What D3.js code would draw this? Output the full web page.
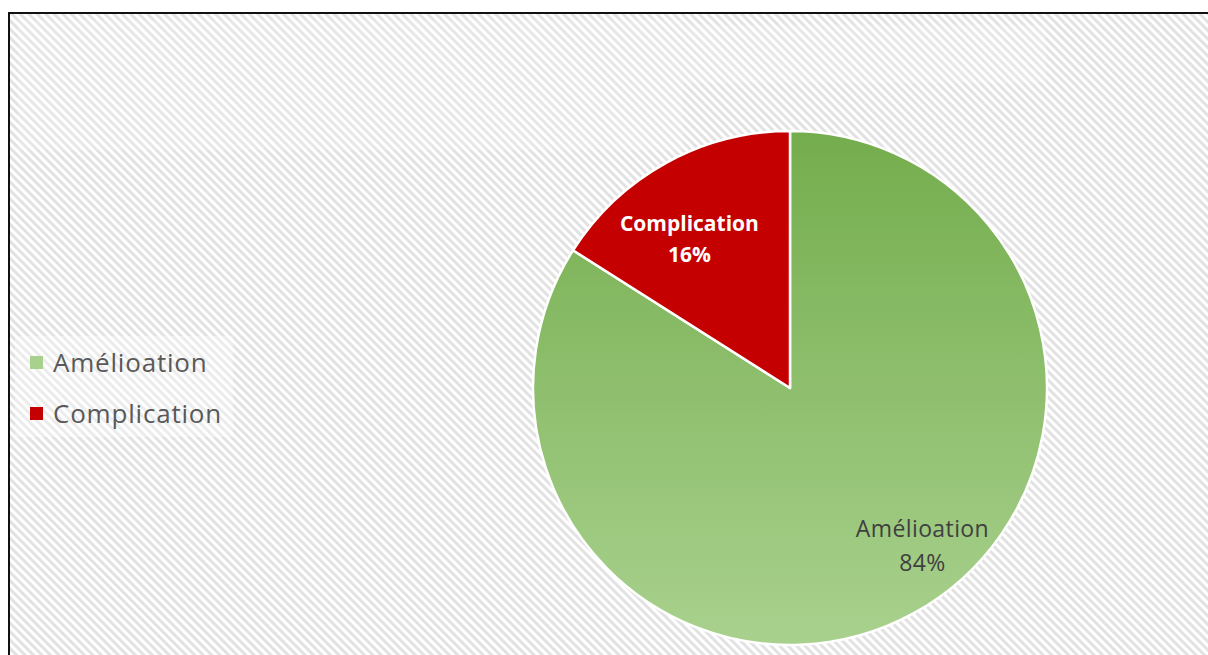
<!DOCTYPE html>
<html>
<head>
<meta charset="utf-8">
<script src="https://cdn.jsdelivr.net/npm/d3@7"></script>
<style>
  html, body { margin: 0; padding: 0; background: #fff; }
  svg { display: block; }
</style>
</head>
<body>
<svg id="chart" width="1208" height="655"></svg>
<script>
// Outcome shares
const categories = ["Amélioation", "Complication"];
const values = [84, 16];
const sliceColors = ["url(#greenFill)", "#c40000"];
const legendSwatches = ["#a9d18e", "#c40000"];

const svg = d3.select("#chart");
const W = 1208, H = 655;

const defs = svg.append("defs");

// diagonal hatch background
const pat = defs.append("pattern")
  .attr("id", "hatch")
  .attr("patternUnits", "userSpaceOnUse")
  .attr("width", 6).attr("height", 6)
  .attr("patternTransform", "rotate(45)");
pat.append("rect").attr("width", 6).attr("height", 6).attr("fill", "#ffffff");
pat.append("rect").attr("width", 6).attr("height", 3).attr("fill", "#e2e2e2");

// chart area with hatch and black frame
svg.append("rect")
  .attr("x", 9).attr("y", 13).attr("width", W + 10).attr("height", H + 10)
  .attr("fill", "url(#hatch)")
  .attr("stroke", "#111").attr("stroke-width", 2);

// faint lighter panels
svg.append("rect").attr("x", 18).attr("y", 20).attr("width", 665).attr("height", 130)
  .attr("fill", "#fff").attr("opacity", 0.18);
svg.append("rect").attr("x", 683).attr("y", 25).attr("width", 363).attr("height", 58)
  .attr("fill", "#fff").attr("opacity", 0.18);

// pie
const cx = 790, cy = 388, r = 257;

const grad = defs.append("linearGradient")
  .attr("id", "greenFill")
  .attr("gradientUnits", "userSpaceOnUse")
  .attr("x1", 0).attr("y1", -r).attr("x2", 0).attr("y2", r);
grad.append("stop").attr("offset", "0%").attr("stop-color", "#74ad4d");
grad.append("stop").attr("offset", "100%").attr("stop-color", "#a9d18e");

const pie = d3.pie().sort(null).value(d => d.value);
const arcs = pie(categories.map((c, i) => ({ name: c, value: values[i], fill: sliceColors[i] })));
const arc = d3.arc().innerRadius(0).outerRadius(r);

const g = svg.append("g").attr("transform", `translate(${cx},${cy})`);
g.selectAll("path.slice")
  .data(arcs)
  .join("path")
  .attr("class", "slice")
  .attr("d", arc)
  .attr("fill", d => d.data.fill)
  .attr("stroke", "#fff")
  .attr("stroke-width", 2.5)
  .attr("stroke-linejoin", "round");

// data labels: radius fraction and angular nudge from each slice's mid-angle
const labelPlacement = [
  { radius: 0.80, nudgeDeg: -11.3, fill: "#404040", weight: 400, size: 23, spacing: 0.4, gap: 34 },
  { radius: 0.70, nudgeDeg: -5.2, fill: "#ffffff", weight: 700, size: 21, spacing: 0, gap: 31 }
];
arcs.forEach((d, i) => {
  const p = labelPlacement[i];
  const a = (d.startAngle + d.endAngle) / 2 + p.nudgeDeg * Math.PI / 180;
  const lx = Math.sin(a) * r * p.radius;
  const ly = -Math.cos(a) * r * p.radius;
  const lines = [d.data.name, d.data.value + "%"];
  lines.forEach((txt, j) => {
    g.append("text")
      .attr("x", lx)
      .attr("y", ly + (j - 0.5) * p.gap)
      .attr("text-anchor", "middle")
      .attr("dominant-baseline", "central")
      .attr("font-family", "'Open Sans', 'Noto Sans', sans-serif")
      .attr("font-size", p.size)
      .attr("font-weight", p.weight)
      .attr("letter-spacing", p.spacing)
      .attr("fill", p.fill)
      .text(txt);
  });
});

// legend
const lg = svg.append("g");
lg.append("rect").attr("x", 15).attr("y", 336).attr("width", 218).attr("height", 101)
  .attr("fill", "#fff").attr("opacity", 0.35);
categories.forEach((c, i) => {
  const y = 362 + i * 51;
  lg.append("rect").attr("x", 30).attr("y", y - 6).attr("width", 13).attr("height", 13)
    .attr("fill", legendSwatches[i]);
  lg.append("text").attr("x", 53).attr("y", y)
    .attr("dominant-baseline", "central")
    .attr("font-family", "'Open Sans', 'Noto Sans', sans-serif")
    .attr("font-size", 26)
    .attr("letter-spacing", 0.8)
    .attr("fill", "#595959")
    .text(c);
});
</script>
</body>
</html>
